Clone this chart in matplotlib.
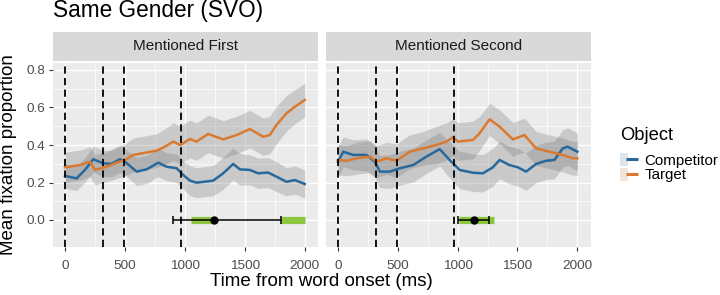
import matplotlib
matplotlib.use("Agg")
import matplotlib.pyplot as plt
from matplotlib.patches import Patch
from matplotlib.lines import Line2D
from matplotlib.legend_handler import HandlerTuple
import numpy as np

plt.rcParams['font.family'] = ['Liberation Sans', 'DejaVu Sans']

# ---------------- data ----------------
panels = ["Mentioned First", "Mentioned Second"]
series = ["Competitor", "Target"]
legend_title = "Object"
colors = {"Competitor": "#27699C", "Target": "#D97A30"}
key_bg = {"Competitor": "#DDE5EC", "Target": "#F3E4D8"}

# Mentioned First
p1_comp_t = [0, 97, 170, 236, 319, 389, 458, 500, 597, 681, 778, 847, 931, 986, 1042, 1097,
             1236, 1319, 1403, 1458, 1542, 1611, 1694, 1764, 1847, 1917, 2000]
p1_comp_y = [0.235, 0.222, 0.27, 0.324, 0.302, 0.30, 0.324, 0.311, 0.258, 0.27, 0.306, 0.284,
             0.276, 0.24, 0.21, 0.199, 0.21, 0.249, 0.299, 0.27, 0.267, 0.249, 0.253, 0.231,
             0.204, 0.213, 0.192]
p1_comp_se = [0.065, 0.065, 0.065, 0.07, 0.07, 0.07, 0.07, 0.07, 0.075, 0.075, 0.075, 0.075,
              0.075, 0.075, 0.08, 0.08, 0.08, 0.085, 0.085, 0.085, 0.08, 0.08, 0.08, 0.08,
              0.075, 0.075, 0.075]

p1_targ_t = [0, 125, 208, 250, 347, 431, 500, 569, 681, 764, 833, 903, 961, 1042, 1097, 1194,
             1319, 1431, 1542, 1653, 1708, 1764, 1847, 1917, 2000]
p1_targ_y = [0.281, 0.293, 0.311, 0.267, 0.284, 0.306, 0.32, 0.347, 0.36, 0.37, 0.391, 0.418,
             0.40, 0.432, 0.418, 0.459, 0.43, 0.453, 0.485, 0.444, 0.453, 0.507, 0.569, 0.604, 0.64]
p1_targ_se = [0.08, 0.08, 0.08, 0.08, 0.08, 0.085, 0.085, 0.09, 0.09, 0.09, 0.095, 0.1,
              0.1, 0.1, 0.1, 0.1, 0.1, 0.1, 0.1, 0.1, 0.1, 0.1, 0.095, 0.09, 0.09]

# Mentioned Second
p2_comp_t = [0, 44, 128, 239, 308, 350, 433, 517, 628, 739, 850, 933, 1017, 1128, 1211, 1294,
             1350, 1433, 1503, 1572, 1656, 1739, 1808, 1878, 1919, 2000]
p2_comp_y = [0.311, 0.364, 0.347, 0.347, 0.311, 0.258, 0.258, 0.276, 0.293, 0.338, 0.378, 0.32,
             0.267, 0.252, 0.249, 0.281, 0.32, 0.293, 0.281, 0.258, 0.299, 0.316, 0.32, 0.382,
             0.391, 0.364]
p2_comp_se = [0.08, 0.08, 0.08, 0.085, 0.085, 0.085, 0.09, 0.09, 0.09, 0.09, 0.09, 0.095,
              0.1, 0.1, 0.1, 0.1, 0.1, 0.1, 0.1, 0.1, 0.1, 0.1, 0.1, 0.1, 0.1, 0.1]

p2_targ_t = [0, 72, 156, 267, 322, 406, 489, 600, 711, 822, 906, 961, 1003, 1128, 1183, 1267,
             1350, 1461, 1558, 1656, 1767, 1878, 1961, 2000]
p2_targ_y = [0.32, 0.316, 0.329, 0.338, 0.311, 0.329, 0.316, 0.364, 0.382, 0.40, 0.418, 0.441,
             0.418, 0.427, 0.462, 0.537, 0.498, 0.43, 0.453, 0.382, 0.364, 0.347, 0.329, 0.329]
p2_targ_se = [0.08, 0.08, 0.085, 0.085, 0.085, 0.085, 0.09, 0.09, 0.09, 0.1, 0.1, 0.1,
              0.1, 0.1, 0.09, 0.085, 0.09, 0.09, 0.09, 0.09, 0.09, 0.09, 0.09, 0.09]

event_lines = [0, 320, 490, 970]

# divergence point estimate with CI, and significant windows
est_center = [1240, 1140]
est_low = [900, 1000]
est_high = [1800, 1260]
sig_windows = [[(1050, 1240), (1800, 2000)], [(1015, 1300)]]

x_ticks = [0, 500, 1000, 1500, 2000]
y_ticks = [0.0, 0.2, 0.4, 0.6, 0.8]
y_tick_labels = ["0.0", "0.2", "0.4", "0.6", "0.8"]
ylim = (-0.144, 0.84)
xlim = (-100, 2110)

data = {
    0: {"Competitor": (p1_comp_t, p1_comp_y, p1_comp_se),
        "Target": (p1_targ_t, p1_targ_y, p1_targ_se)},
    1: {"Competitor": (p2_comp_t, p2_comp_y, p2_comp_se),
        "Target": (p2_targ_t, p2_targ_y, p2_targ_se)},
}

# ---------------- figure ----------------
W, H = 720, 295
fig = plt.figure(figsize=(W / 100, H / 100), dpi=100)

def fx(px):
    return px / W

def fy(py):
    return 1 - py / H

panel_x = [(53, 318), (326, 590.5)]
p_top, p_bot = 62.5, 247
s_top, s_bot = 31.7, 60.8

for i, (x0, x1) in enumerate(panel_x):
    ax = fig.add_axes([fx(x0), fy(p_bot), fx(x1 - x0), fy(p_top) - fy(p_bot)])
    ax.set_facecolor("#EBEBEB")
    for s in ax.spines.values():
        s.set_visible(False)
    ax.set_xlim(*xlim)
    ax.set_ylim(*ylim)
    ax.set_xticks(x_ticks)
    ax.set_xticks([250, 750, 1250, 1750], minor=True)
    ax.set_yticks(y_ticks)
    ax.set_yticks([0.1, 0.3, 0.5, 0.7], minor=True)
    ax.grid(which="major", color="white", lw=1.0)
    ax.grid(which="minor", color="white", lw=0.5)
    ax.set_axisbelow(True)
    ax.tick_params(which="major", length=2.75, width=0.8, color="#333333",
                   labelsize=9.7, labelcolor="#4D4D4D", pad=2.5)
    ax.tick_params(axis="x", which="major", pad=6.5)
    ax.tick_params(which="minor", length=0)
    if i == 0:
        ax.set_yticklabels(y_tick_labels)
    else:
        ax.tick_params(axis="y", which="both", left=False, labelleft=False)

    # ribbons
    for s in series:
        t, y, se = data[i][s]
        t = np.array(t); y = np.array(y); se = np.array(se)
        ax.fill_between(t, y - se, y + se, color="#6E6E6E", alpha=0.27, lw=0, zorder=2)
    for s in series:
        t, y, se = data[i][s]
        ax.plot(t, y, color=colors[s], lw=1.8, zorder=3, solid_joinstyle="round")

    for v in event_lines:
        ax.axvline(v, color="black", lw=1.3, dashes=(4, 2.4), zorder=4)

    for (a, b) in sig_windows[i]:
        ax.plot([a, b], [0, 0], color="#8CC63F", lw=5.2, solid_capstyle="butt", zorder=5)
    ax.errorbar([est_center[i]], [0], xerr=[[est_center[i] - est_low[i]], [est_high[i] - est_center[i]]],
                fmt="o", color="black", ms=5, elinewidth=1.1, capsize=3, capthick=1.1, zorder=6)

    # strip
    sax = fig.add_axes([fx(x0), fy(s_bot), fx(x1 - x0), fy(s_top) - fy(s_bot)])
    sax.set_facecolor("#D9D9D9")
    sax.set_xticks([]); sax.set_yticks([])
    for sp in sax.spines.values():
        sp.set_visible(False)
    sax.text(0.5, 0.5, panels[i], ha="center", va="center", fontsize=11, color="#1A1A1A",
             transform=sax.transAxes)

fig.text(fx(53), fy(17), "Same Gender (SVO)", fontsize=16.3, ha="left", va="baseline", color="black")
fig.text(fx(321.75), fy(281), "Time from word onset (ms)", fontsize=13.5, ha="center", va="center")
fig.text(fx(9), fy((p_top + p_bot) / 2), "Mean fixation proportion", fontsize=13.5,
         ha="center", va="center", rotation=90)

fig.text(fx(620), fy(135), legend_title, fontsize=13.2, ha="left", va="center")
handles = [(Patch(facecolor=key_bg[s], edgecolor="none"),
            Line2D([], [], color=colors[s], marker="_", ls="none", ms=8, mew=2.2)) for s in series]
leg = fig.legend(handles, series, loc="upper left", bbox_to_anchor=(fx(620), fy(153)),
                 frameon=False, fontsize=10.9,
                 handler_map={tuple: HandlerTuple(ndivide=None, pad=0)},
                 handlelength=1.1, handleheight=0.95, labelspacing=0.0, handletextpad=0.5,
                 borderaxespad=0, borderpad=0)

fig.savefig("out.png", dpi=100)
